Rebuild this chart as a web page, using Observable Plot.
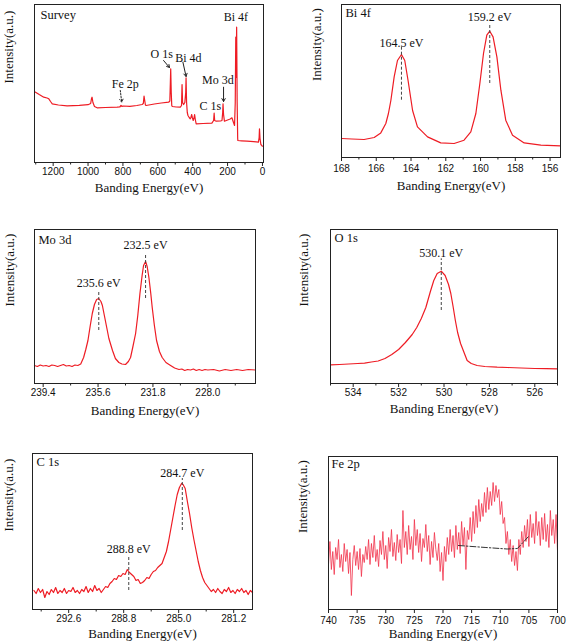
<!DOCTYPE html>
<html><head><meta charset="utf-8">
<script src="https://cdn.jsdelivr.net/npm/d3@7"></script>
<script src="https://cdn.jsdelivr.net/npm/@observablehq/plot@0.6"></script>
<style>
body{margin:0;background:#fff;}
#wrap{position:relative;width:567px;height:643px;overflow:hidden;background:#fff;}
.cell{position:absolute;}
.serif{font-family:"Liberation Serif","DejaVu Serif",serif;}
</style></head><body><div id="wrap"></div>
<script>
// ---------- data (energy eV, relative intensity) ----------
const surveyData = [[1307,70.5],[1301,70.3],[1280,68],[1254,65.3],[1235,64.5],[1225,63.7],[1215,61],[1205,58.7],[1170,57.5],[1120,56.7],[1050,57.2],[1000,57.8],[985,59],[980,64],[977,65.3],[972,60],[963,56],[948,54.7],[900,55],[833,55.3],[818,55.5],[811,57],[805,56],[799,56.5],[760,56.2],[720,57],[690,58],[683,59],[679,66.3],[675,62],[671,57.5],[667,57],[620,58.5],[580,59.5],[538,60.3],[531,61.5],[528,80],[526,93.7],[523,70],[520,57],[517,56],[495,55.5],[471,55.3],[464,57],[461,78],[458,60],[452,58],[445,60],[440,70],[438,84.7],[435,60],[431,50],[427,47],[420,45],[414,43.7],[410,45],[406,48],[402,45],[397,42],[393,44],[389,48],[385,43],[380,38.7],[340,39],[290,39.3],[280,42],[277,49.3],[274,42],[265,41.3],[240,41.5],[232,42],[228,50],[226,58.7],[223,48],[218,41.3],[200,42.5],[185,43.5],[175,44.7],[168,41],[160,37],[156,60],[153,125.3],[151,85],[148,135.3],[145,60],[142,24],[141,22],[120,21.7],[89,21.3],[50,20.8],[23,20.3],[19,25],[17,33.7],[14,24],[9,18],[3,16.8],[0,16.3]];

const bi4fData = [[168.0,19],[167.4,18.5],[166.7,18],[166.12,20],[165.74,24.6],[165.45,34],[165.3,44],[165.16,57],[164.97,80.6],[164.78,97],[164.55,103],[164.36,97],[164.17,77],[163.91,47],[163.63,30.6],[163.05,20.6],[162.29,14.6],[161.52,14],[160.95,17.3],[160.56,25.6],[160.27,44],[160.04,74],[159.83,104],[159.64,122.3],[159.47,126.3],[159.28,120.6],[159.06,100.6],[158.83,67.3],[158.55,37.3],[158.16,22.3],[157.49,14.6],[156.53,12.3],[155.4,11.6]];

const mo3dData = [[240.0,18],[239.8,17],[239.6,18.5],[239.4,17.5],[239.2,18],[239.0,17],[238.8,18.5],[238.6,18],[238.4,17],[238.2,18],[238.0,19],[237.8,17.5],[237.6,18],[237.4,17],[237.2,18.5],[237.0,18],[236.8,19.5],[236.6,26],[236.45,34],[236.3,43],[236.15,57],[236.0,70],[235.85,79],[235.7,84],[235.55,85],[235.4,82],[235.3,78],[235.15,67],[235.0,56],[234.85,45],[234.6,33],[234.4,25],[234.16,21],[233.95,19.5],[233.7,19],[233.5,22],[233.35,26],[233.2,36],[233.0,50],[232.85,68],[232.7,90],[232.55,108],[232.45,118],[232.31,122],[232.2,117],[232.08,106],[231.95,90],[231.85,76],[231.7,58],[231.55,43],[231.35,32],[231.16,26],[230.9,21],[230.58,18],[230.3,15.5],[230.0,14],[229.8,14.5],[229.6,13],[229.4,14],[229.2,13.5],[229.0,14.5],[228.8,13],[228.6,14],[228.4,13],[228.2,14],[228.0,13.5],[227.6,14],[227.2,12.5],[226.8,14],[226.4,13],[226.0,14],[225.6,13],[225.2,14],[224.7,13.5]];

const o1sData = [[535,18.7],[534.6,19],[534.2,19.5],[533.8,20],[533.5,20.3],[533.2,21.5],[532.9,22.5],[532.6,25],[532.3,29],[532.0,34],[531.7,41],[531.4,49],[531.2,56],[531.0,65],[530.8,76],[530.6,92],[530.45,103],[530.3,110],[530.12,112.3],[529.95,108],[529.8,99],[529.7,90],[529.6,77],[529.5,63],[529.4,51],[529.27,40],[529.1,30],[528.98,23],[528.8,20],[528.54,18],[528.2,17],[527.66,16.3],[527.2,16],[526.6,15.5],[526.0,15],[525.5,14.8],[525,14.7]];

const c1sData = [[295.0,19],[294.85,16],[294.7,21],[294.55,17],[294.4,20],[294.25,12],[294.1,18],[293.95,15],[293.8,20],[293.65,17],[293.5,22],[293.35,16],[293.2,19],[293.05,17],[292.9,21],[292.75,16],[292.6,19],[292.45,18],[292.3,22],[292.15,17],[292.0,19],[291.85,16],[291.7,20],[291.55,18],[291.4,23],[291.25,17],[291.1,21],[290.95,18],[290.8,24],[290.65,19],[290.5,21],[290.35,17],[290.2,20],[290.05,23],[289.9,22],[289.75,26],[289.6,28],[289.45,31],[289.3,30],[289.15,34],[289.0,33],[288.85,36],[288.7,35],[288.55,40],[288.4,37],[288.25,35],[288.1,33],[287.95,29],[287.8,30],[287.65,26],[287.5,27],[287.35,29],[287.2,32],[287.05,31],[286.9,35],[286.75,38],[286.6,39],[286.45,42],[286.3,44],[286.15,46],[286.0,52],[285.85,58],[285.7,68],[285.55,80],[285.4,92],[285.25,104],[285.1,115],[284.95,122],[284.8,126],[284.7,125],[284.55,121],[284.4,108],[284.25,96],[284.1,82],[283.95,70],[283.8,59],[283.65,48],[283.5,39],[283.35,32],[283.2,27],[283.05,24],[282.9,21],[282.75,18],[282.6,20],[282.45,17],[282.3,21],[282.15,18],[282.0,16],[281.85,20],[281.7,18],[281.55,22],[281.4,17],[281.25,19],[281.1,16],[280.95,20],[280.8,18],[280.65,21],[280.5,17],[280.35,19],[280.2,15],[280.05,19],[279.9,17]];

const fe2pData = [[740,45],[739.75,68],[739.5,40],[739.25,58],[739,35],[738.75,62],[738.5,50],[738.25,70],[738,42],[737.75,55],[737.5,38],[737.25,66],[737,48],[736.75,60],[736.5,36],[736.25,57],[736,14],[735.75,50],[735.5,64],[735.25,44],[735,58],[734.75,40],[734.5,61],[734.25,33],[734,55],[733.75,47],[733.5,63],[733.25,50],[733,70],[732.75,45],[732.5,66],[732.25,52],[732,74],[731.75,48],[731.5,60],[731.25,43],[731,69],[730.75,55],[730.5,78],[730.25,50],[730,64],[729.75,41],[729.5,72],[729.25,58],[729,80],[728.75,53],[728.5,67],[728.25,49],[728,75],[727.75,57],[727.5,70],[727.25,46],[727,99],[726.75,62],[726.5,78],[726.25,55],[726,84],[725.75,60],[725.5,73],[725.25,50],[725,90],[724.75,64],[724.5,80],[724.25,57],[724,76],[723.75,48],[723.5,71],[723.25,62],[723,85],[722.75,58],[722.5,74],[722.25,45],[722,68],[721.75,52],[721.5,77],[721.25,60],[721,49],[720.75,66],[720.5,38],[720.25,57],[720,29],[719.75,63],[719.5,48],[719.25,72],[719,55],[718.75,80],[718.5,58],[718.25,74],[718,52],[717.75,84],[717.5,60],[717.25,77],[717,56],[716.75,88],[716.5,64],[716.25,82],[716,40],[715.75,79],[715.5,70],[715.25,92],[715,68],[714.75,98],[714.5,76],[714.25,104],[714,82],[713.75,110],[713.5,88],[713.25,106],[713,93],[712.75,117],[712.5,97],[712.25,122],[712,100],[711.75,118],[711.5,104],[711.25,127],[711,108],[710.75,124],[710.5,112],[710.25,120],[710,95],[709.75,108],[709.5,86],[709.25,92],[709,66],[708.75,78],[708.5,55],[708.25,70],[708,48],[707.75,64],[707.5,44],[707.25,58],[707,39],[706.75,70],[706.5,55],[706.25,78],[706,62],[705.75,84],[705.5,68],[705.25,90],[705,63],[704.75,95],[704.5,72],[704.25,86],[704,66],[703.75,98],[703.5,74],[703.25,88],[703,64],[702.75,92],[702.5,70],[702.25,96],[702,68],[701.75,85],[701.5,62],[701.25,99],[701,74],[700.75,90],[700.5,66],[700.25,95],[700,59]];
const fe2pBaseline = [[717.3,64],[712.5,62],[708.8,60.5],[707.0,61],[704.9,74]];

// annotations (data units)
const surveyLabels = [
  {label: "Bi 4f", E: 152, I: 145.3},
  {label: "O 1s", E: 578, I: 108.7},
  {label: "Bi 4d", E: 425, I: 104.7},
  {label: "Mo 3d", E: 256, I: 82},
  {label: "C 1s", E: 299, I: 56},
  {label: "Fe 2p", E: 786, I: 78.7}
];
const surveyArrows = [
  {E1: 567, I1: 102, E2: 533, I2: 95, dotted: false},
  {E1: 456, I1: 100.3, E2: 438, I2: 86, dotted: false},
  {E1: 223, I1: 75.3, E2: 223, I2: 61, dotted: false},
  {E1: 815, I1: 72, E2: 807, I2: 60.3, dotted: true}
];
const bi4fPeaks = [{label: "164.5 eV", E: 164.55, I: 114.6, lo: 57.3, hi: 110.6}, {label: "159.2 eV", E: 159.47, I: 140, lo: 74, hi: 134}];
const mo3dPeaks = [{label: "235.6 eV", E: 235.55, I: 100.3, lo: 53, hi: 93}, {label: "232.5 eV", E: 232.31, I: 138, lo: 85, hi: 130}];
const o1sPeaks = [{label: "530.1 eV", E: 530.12, I: 130.3, lo: 73, hi: 124.7}];
const c1sPeaks = [{label: "288.8 eV", E: 288.45, I: 60.7, lo: 19, hi: 53}, {label: "284.7 eV", E: 284.75, I: 136.3, lo: 79, hi: 131}];

// tick values
const surveyMajor = [1200,1000,800,600,400,200,0], surveyMinor = [1300,1100,900,700,500,300,100];
const bi4fMajor = [168,166,164,162,160,158,156], bi4fMinor = [167,165,163,161,159,157];
const mo3dMajor = [239.4,235.6,231.8,228.0], mo3dMinor = [237.5,233.7,229.9,226.1];
const o1sMajor = [534,532,530,528,526], o1sMinor = [535,533,531,529,527,525];
const c1sMajor = [292.6,288.8,285.0,281.2], c1sMinor = [294.5,290.7,286.9,283.1];
const fe2pMajor = [740,735,730,725,720,715,710,705,700];

const xLabel = "Banding Energy(eV)";
const yLabel = "Intensity(a.u.)";

// ---------- drawing ----------
const SERIF = "Liberation Serif";
const SANS = "Liberation Sans";
const RED = "#ee1c24";

function peakMarks(peaks) {
  return [
    Plot.ruleX(peaks, {x: "E", y1: "lo", y2: "hi", stroke: "#444", strokeWidth: 1, strokeDasharray: "3,2"}),
    Plot.text(peaks, {x: "E", y: "I", text: "label", fontFamily: SERIF, fontSize: 12, fill: "#111"})
  ];
}

function panel(o) {
  const marks = [
    Plot.line(o.data, {x: d => d[0], y: d => d[1], stroke: o.stroke || RED, strokeWidth: o.sw || 1.2, strokeOpacity: o.op || 1}),
    ...(o.extra || []),
    Plot.frame({stroke: "#222", strokeWidth: 1}),
    Plot.axisX(o.major, {tickSize: 4, tickPadding: o.tp ?? 1, tickFormat: o.fmt, fontFamily: SANS, fontSize: 10, label: null, stroke: "#222", fill: "#111"}),
    Plot.text([o.title], {frameAnchor: "top-left", dx: o.tdx, dy: o.tdy, textAnchor: "start", lineAnchor: "top", fontFamily: SERIF, fontSize: 12.5, fill: "#111"}),
    Plot.text([xLabel], {frameAnchor: "bottom", dy: o.xdy, lineAnchor: "middle", fontFamily: SERIF, fontSize: 13, fill: "#111"}),
    Plot.text([yLabel], {frameAnchor: "left", dx: -o.ydx, rotate: -90, lineAnchor: "middle", fontFamily: SERIF, fontSize: 13, fill: "#111"})
  ];
  if (o.minor) marks.push(Plot.axisX(o.minor, {tickSize: 2.5, tickFormat: () => "", label: null, stroke: "#222"}));
  const svg = Plot.plot({
    width: o.width, height: o.height,
    marginLeft: o.m[0], marginTop: o.m[1], marginRight: o.m[2], marginBottom: o.m[3],
    x: {domain: o.xDomain},
    y: {domain: [0, o.yMax], axis: null},
    style: {fontSize: "10px", background: "transparent", color: "#111"},
    marks
  });
  const div = document.createElement("div");
  div.className = "cell";
  div.style.left = o.left + "px";
  div.style.top = o.top + "px";
  div.appendChild(svg);
  document.getElementById("wrap").appendChild(div);
}

panel({
  data: surveyData, left: 0, top: 0, width: 280, height: 205, m: [34, 4, 17, 43],
  xDomain: [1307, -6], yMax: 158, major: surveyMajor, minor: surveyMinor, fmt: d3.format("d"),
  title: "Survey", tdx: 6, tdy: 6, xdy: 25, ydx: 26,
  extra: [
    Plot.arrow(surveyArrows.filter(d => !d.dotted), {x1: "E1", y1: "I1", x2: "E2", y2: "I2", stroke: "#222", strokeWidth: 1, headLength: 5}),
    Plot.arrow(surveyArrows.filter(d => d.dotted), {x1: "E1", y1: "I1", x2: "E2", y2: "I2", stroke: "#222", strokeWidth: 1, headLength: 5, strokeDasharray: "1.5,1.5"}),
    Plot.text(surveyLabels, {x: "E", y: "I", text: "label", fontFamily: SERIF, fontSize: 12, fill: "#111"})
  ]
});

panel({
  data: bi4fData, left: 283, top: 0, width: 284, height: 205, m: [58, 4, 7, 48],
  xDomain: [168, 155.4], yMax: 153, major: bi4fMajor, minor: bi4fMinor, fmt: d3.format("d"), tp: 3,
  title: "Bi 4f", tdx: 4, tdy: 4, xdy: 28, ydx: 25,
  extra: peakMarks(bi4fPeaks)
});

panel({
  data: mo3dData, left: 0, top: 210, width: 280, height: 215, m: [34, 19, 25, 42],
  xDomain: [240, 224.7], yMax: 154, major: mo3dMajor, minor: mo3dMinor, fmt: d3.format(".1f"),
  title: "Mo 3d", tdx: 4, tdy: 6, xdy: 27, ydx: 25,
  extra: peakMarks(mo3dPeaks)
});

panel({
  data: o1sData, left: 283, top: 210, width: 284, height: 215, m: [47, 19, 10, 42],
  xDomain: [535, 525], yMax: 154, major: o1sMajor, minor: o1sMinor, fmt: d3.format("d"),
  title: "O 1s", tdx: 4, tdy: 4, xdy: 25, ydx: 27,
  extra: peakMarks(o1sPeaks)
});

panel({
  data: c1sData, left: 0, top: 430, width: 280, height: 213, m: [32, 23, 28, 34],
  xDomain: [295.1, 279.9], yMax: 156, major: c1sMajor, minor: c1sMinor, fmt: d3.format(".1f"),
  title: "C 1s", tdx: 4, tdy: 4, xdy: 24, ydx: 24,
  extra: peakMarks(c1sPeaks)
});

panel({
  data: fe2pData, left: 283, top: 430, width: 284, height: 213, m: [45, 26, 10, 34],
  xDomain: [740, 700], yMax: 153, major: fe2pMajor, minor: null, fmt: d3.format("d"), tp: 3,
  title: "Fe 2p", tdx: 3, tdy: 3, xdy: 24, ydx: 26,
  stroke: "#f2324a", sw: 0.9, op: 0.9,
  extra: [Plot.line(fe2pBaseline, {x: d => d[0], y: d => d[1], stroke: "#333", strokeWidth: 1, strokeDasharray: "6,2,1.5,2"})]
});
</script></body></html>
